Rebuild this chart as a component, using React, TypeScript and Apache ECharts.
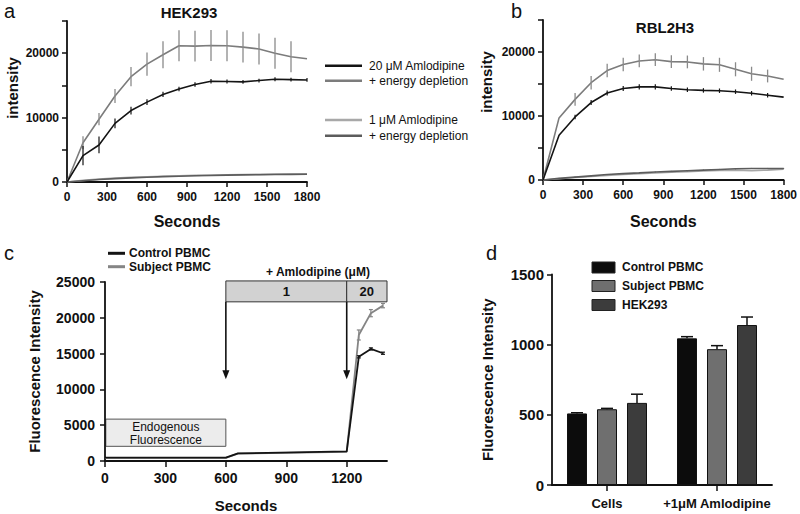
import React, { useEffect, useRef } from 'react';
import * as echarts from 'echarts';

const FONT = '"Liberation Sans", Arial, Helvetica, sans-serif';

// ---------- panel a / b (time course, s) ----------
const TIME_AB = [0, 120, 240, 360, 480, 600, 720, 840, 960, 1080, 1200, 1320, 1440, 1560, 1680, 1800];
const X_TICKS_AB = [0, 300, 600, 900, 1200, 1500, 1800];
const Y_LABELS_AB = [0, 10000, 20000];

const HEK_20 = [0, 4100, 5750, 9100, 11100, 12400, 13600, 14450, 15150, 15650, 15600, 15550, 15750, 15950, 15900, 15850];
const HEK_20_ERR = [0, 1500, 1300, 750, 600, 450, 400, 350, 350, 350, 300, 300, 300, 300, 300, 300];
const HEK_20_ED = [0, 6100, 9750, 13350, 16350, 18300, 19750, 21150, 21100, 21200, 21150, 20950, 20650, 20000, 19450, 19150];
const HEK_20_ED_ERR = [0, 1000, 950, 1100, 1500, 1800, 2100, 2400, 2400, 2400, 2400, 2400, 2400, 2400, 2400, 0];
const HEK_1 = [0, 250, 450, 600, 720, 820, 900, 970, 1030, 1080, 1120, 1160, 1190, 1220, 1240, 1260];
const HEK_1_ED = [0, 200, 380, 520, 640, 740, 830, 900, 960, 1010, 1060, 1100, 1130, 1160, 1180, 1200];

const RBL_20 = [0, 7000, 9850, 12100, 13600, 14300, 14550, 14550, 14300, 14100, 14000, 13950, 13800, 13550, 13250, 12950];
const RBL_20_ERR = [0, 0, 350, 400, 400, 400, 400, 400, 350, 350, 350, 350, 350, 350, 350, 0];
const RBL_20_ED = [0, 9700, 12600, 15200, 17100, 18050, 18600, 18800, 18500, 18450, 18150, 18000, 17300, 16600, 16250, 15750];
const RBL_20_ED_ERR = [0, 0, 1000, 1050, 1050, 1050, 1000, 1000, 1000, 1000, 1050, 1100, 1100, 1100, 1000, 0];
const RBL_1 = [0, 200, 380, 550, 700, 850, 980, 1100, 1200, 1300, 1400, 1480, 1550, 1450, 1550, 1700];
const RBL_1_ED = [0, 250, 450, 650, 850, 1000, 1120, 1250, 1350, 1450, 1550, 1650, 1750, 1800, 1800, 1800];
const RBL_1_ED_ERR = [0, 80, 80, 80, 80, 80, 80, 80, 80, 80, 80, 80, 80, 80, 80, 80];

// ---------- panel c ----------
const TIME_C = [0, 600, 660, 1200, 1260, 1320, 1380];
const X_TICKS_C = [0, 300, 600, 900, 1200];
const CONTROL_C = [480, 480, 1060, 1340, 14550, 15650, 15050];
const CONTROL_C_ERR = [0, 0, 0, 0, 150, 150, 150];
const SUBJECT_C = [450, 450, 1020, 1280, 17600, 20650, 21700];
const SUBJECT_C_ERR = [0, 0, 0, 0, 700, 500, 300];

// ---------- panel d ----------
const CATS_D = ['Cells', '+1μM Amlodipine'];
const CONTROL_D = [510, 1045];
const CONTROL_D_ERR = [5, 12];
const SUBJECT_D = [540, 968];
const SUBJECT_D_ERR = [6, 25];
const HEK_D = [585, 1140];
const HEK_D_ERR = [62, 57];

const BAR_W = 20;
const BAR_GAP = 0.5;

const C_BLACK = '#141414';
const C_GRAY = '#7c7c7c';
const C_LIGHT = '#a8a8a8';
const C_DARK = '#5c5c5c';

const pairs = (xs: number[], ys: number[]) => xs.map((x, i) => [x, ys[i]]);
const errData = (xs: number[], ys: number[], es: number[]) =>
  xs.map((x, i) => [x, ys[i] - es[i], ys[i] + es[i], es[i]]).filter((d) => d[3] > 0);

const line = (name: string, gi: number, xs: number[], ys: number[], color: string, width = 1.6) => ({
  type: 'line',
  name,
  xAxisIndex: gi,
  yAxisIndex: gi,
  data: pairs(xs, ys),
  symbol: 'none',
  lineStyle: { color, width },
  itemStyle: { color },
  z: 3,
});

const errBars = (gi: number, xs: number[], ys: number[], es: number[], color: string, cap: number, width: number) => ({
  type: 'custom',
  xAxisIndex: gi,
  yAxisIndex: gi,
  data: errData(xs, ys, es),
  encode: { x: 0, y: [1, 2] },
  z: 4,
  renderItem: (params: any, api: any) => {
    const x = api.value(0);
    const lo = api.coord([x, api.value(1)]);
    const hi = api.coord([x, api.value(2)]);
    const style = { stroke: color, lineWidth: width };
    const children: any[] = [
      { type: 'line', shape: { x1: lo[0], y1: lo[1], x2: hi[0], y2: hi[1] }, style },
    ];
    if (cap > 0) {
      children.push({ type: 'line', shape: { x1: hi[0] - cap, y1: hi[1], x2: hi[0] + cap, y2: hi[1] }, style });
      children.push({ type: 'line', shape: { x1: lo[0] - cap, y1: lo[1], x2: lo[0] + cap, y2: lo[1] }, style });
    }
    return { type: 'group', children };
  },
});

const barErr = (k: number, vals: number[], errs: number[]) => ({
  type: 'custom',
  xAxisIndex: 3,
  yAxisIndex: 3,
  data: vals.map((v, i) => [i, v, errs[i]]),
  z: 5,
  renderItem: (params: any, api: any) => {
    const off = (k - 1) * BAR_W * (1 + BAR_GAP);
    const base = api.coord([api.value(0), api.value(1)]);
    const top = api.coord([api.value(0), api.value(1) + api.value(2)]);
    const x = base[0] + off;
    const style = { stroke: '#111', lineWidth: 1.5 };
    return {
      type: 'group',
      children: [
        { type: 'line', shape: { x1: x, y1: base[1], x2: x, y2: top[1] }, style },
        { type: 'line', shape: { x1: x - 6, y1: top[1], x2: x + 6, y2: top[1] }, style },
      ],
    };
  },
});

const plain = (v: any) => String(v);

const axisBase = (fontSize: number, margin: number) => ({
  axisLine: { show: true, onZero: false, lineStyle: { color: '#111', width: 1.8 } },
  axisTick: { show: true, length: 5, lineStyle: { color: '#111', width: 1.5 } },
  axisLabel: { color: '#111', fontWeight: 'bold', fontFamily: FONT, fontSize, margin, formatter: plain },
  splitLine: { show: false },
});

const nameStyle = (size: number) => ({ color: '#111', fontWeight: 'bold', fontFamily: FONT, fontSize: size });

export default function App() {
  const ref = useRef<HTMLDivElement>(null);

  useEffect(() => {
    document.body.style.margin = '0';
    const chart = echarts.init(ref.current!, null, { renderer: 'svg' });

    const abX = (gi: number, gap: number) => {
      const b = axisBase(12, 9);
      return {
        ...b,
        gridIndex: gi,
        type: 'value',
        min: 0,
        max: 1800,
        interval: 300,
        name: 'Seconds',
        nameLocation: 'middle',
        nameGap: gap,
        nameTextStyle: nameStyle(16),
        axisTick: { ...b.axisTick, customValues: X_TICKS_AB },
        axisLabel: { ...b.axisLabel, customValues: X_TICKS_AB },
      };
    };
    const abY = (gi: number) => {
      const b = axisBase(12, 8);
      return {
        ...b,
        gridIndex: gi,
        type: 'value',
        min: 0,
        max: 25000,
        interval: 5000,
        axisLabel: { ...b.axisLabel, customValues: Y_LABELS_AB },
      };
    };
    const cX = axisBase(14, 10);
    const dX = axisBase(13, 12);

    const option: any = {
      animation: false,
      backgroundColor: '#fff',
      textStyle: { fontFamily: FONT },
      grid: [
        { left: 67, top: 21, width: 240, height: 161 },
        { left: 543, top: 20, width: 242, height: 160 },
        { left: 105, top: 282, width: 282, height: 186 },
        { left: 552, top: 274.5, width: 220, height: 210.5 },
      ],
      xAxis: [
        abX(0, 31),
        abX(1, 33),
        {
          ...cX,
          gridIndex: 2,
          type: 'value',
          min: 0,
          max: 1400,
          interval: 300,
          name: 'Seconds',
          nameLocation: 'middle',
          nameGap: 37,
          nameTextStyle: nameStyle(15),
          axisTick: { ...cX.axisTick, length: 6, customValues: X_TICKS_C },
          axisLabel: { ...cX.axisLabel, customValues: X_TICKS_C },
        },
        {
          ...dX,
          gridIndex: 3,
          type: 'category',
          data: CATS_D,
          axisTick: { ...dX.axisTick, length: 6, alignWithLabel: true },
          axisLabel: { ...dX.axisLabel, interval: 0, hideOverlap: false },
        },
      ],
      yAxis: [
        abY(0),
        abY(1),
        {
          ...axisBase(14, 10),
          gridIndex: 2,
          type: 'value',
          min: 0,
          max: 25000,
          interval: 5000,
          name: 'Fluorescence Intensity',
          nameLocation: 'middle',
          nameGap: 63,
          nameTextStyle: nameStyle(15),
        },
        {
          ...axisBase(15, 8),
          gridIndex: 3,
          type: 'value',
          min: 0,
          max: 1500,
          interval: 500,
          name: 'Fluorescence Intensity',
          nameLocation: 'middle',
          nameGap: 57,
          nameTextStyle: nameStyle(15),
        },
      ],
      series: [
        // panel a
        line('1 μM Amlodipine (HEK293)', 0, TIME_AB, HEK_1, C_LIGHT),
        line('1 μM + energy depletion (HEK293)', 0, TIME_AB, HEK_1_ED, C_DARK),
        line('20 μM + energy depletion (HEK293)', 0, TIME_AB, HEK_20_ED, C_GRAY),
        errBars(0, TIME_AB, HEK_20_ED, HEK_20_ED_ERR, '#8a8a8a', 0, 1.3),
        line('20 μM Amlodipine (HEK293)', 0, TIME_AB, HEK_20, C_BLACK),
        errBars(0, TIME_AB, HEK_20, HEK_20_ERR, C_BLACK, 0, 1.2),
        // panel b
        line('1 μM Amlodipine (RBL2H3)', 1, TIME_AB, RBL_1, C_LIGHT),
        line('1 μM + energy depletion (RBL2H3)', 1, TIME_AB, RBL_1_ED, C_DARK),
        errBars(1, TIME_AB, RBL_1_ED, RBL_1_ED_ERR, C_DARK, 0, 1),
        line('20 μM + energy depletion (RBL2H3)', 1, TIME_AB, RBL_20_ED, C_GRAY),
        errBars(1, TIME_AB, RBL_20_ED, RBL_20_ED_ERR, '#8a8a8a', 0, 1.3),
        line('20 μM Amlodipine (RBL2H3)', 1, TIME_AB, RBL_20, C_BLACK),
        errBars(1, TIME_AB, RBL_20, RBL_20_ERR, C_BLACK, 0, 1.2),
        // panel c
        line('Subject PBMC (time)', 2, TIME_C, SUBJECT_C, '#858585', 1.8),
        errBars(2, TIME_C, SUBJECT_C, SUBJECT_C_ERR, '#858585', 2, 1.2),
        line('Control PBMC (time)', 2, TIME_C, CONTROL_C, C_BLACK, 1.8),
        errBars(2, TIME_C, CONTROL_C, CONTROL_C_ERR, C_BLACK, 2, 1.2),
        // panel d
        {
          type: 'bar', name: 'Control PBMC', xAxisIndex: 3, yAxisIndex: 3, data: CONTROL_D,
          barWidth: BAR_W, barGap: `${BAR_GAP * 100}%`,
          itemStyle: { color: '#0c0c0c', borderColor: '#111', borderWidth: 1 },
        },
        {
          type: 'bar', name: 'Subject PBMC', xAxisIndex: 3, yAxisIndex: 3, data: SUBJECT_D,
          barWidth: BAR_W, barGap: `${BAR_GAP * 100}%`,
          itemStyle: { color: '#6f6f6f', borderColor: '#111', borderWidth: 1 },
        },
        {
          type: 'bar', name: 'HEK293', xAxisIndex: 3, yAxisIndex: 3, data: HEK_D,
          barWidth: BAR_W, barGap: `${BAR_GAP * 100}%`,
          itemStyle: { color: '#3c3c3c', borderColor: '#111', borderWidth: 1 },
        },
        barErr(0, CONTROL_D, CONTROL_D_ERR),
        barErr(1, SUBJECT_D, SUBJECT_D_ERR),
        barErr(2, HEK_D, HEK_D_ERR),
      ],
    };

    chart.setOption(option);

    const txt = (text: string, x: number, y: number, font: string, align = 'left', extra: any = {}) => ({
      type: 'text',
      x,
      y,
      ...extra,
      style: { text, font, fill: '#111', textAlign: align, textVerticalAlign: 'middle' },
    });
    const hline = (x1: number, x2: number, y: number, color: string, w: number) => ({
      type: 'line',
      shape: { x1, y1: y, x2, y2: y },
      style: { stroke: color, lineWidth: w },
    });

    const pc = (x: number, y: number) => chart.convertToPixel({ gridIndex: 2 } as any, [x, y]) as number[];
    const boxTop = pc(600, 25150);
    const boxBot = pc(1200, 22230);
    const boxEnd = pc(1400, 22230);
    const tip1 = pc(600, 11425);
    const tip2 = pc(1200, 11425);
    const endoA = pc(4, 5850);
    const endoB = pc(600, 2050);
    const arrow = (x: number, yTop: number, yTip: number) => [
      { type: 'line', shape: { x1: x, y1: yTop, x2: x, y2: yTip - 6 }, style: { stroke: '#111', lineWidth: 1.6 } },
      {
        type: 'polygon',
        shape: { points: [[x - 3.5, yTip - 9], [x + 3.5, yTip - 9], [x, yTip]] },
        style: { fill: '#111' },
      },
    ];

    const BOLD12 = `bold 12px ${FONT}`;
    const graphics: any[] = [
      // panel labels
      txt('a', 4, 11, `20px ${FONT}`),
      txt('b', 511, 11, `20px ${FONT}`),
      txt('c', 4, 253, `20px ${FONT}`),
      txt('d', 486, 253, `20px ${FONT}`),
      // titles
      txt('HEK293', 189, 12, `bold 15px ${FONT}`, 'center'),
      txt('RBL2H3', 665, 27, `bold 15px ${FONT}`, 'center'),
      txt('intensity', 12, 88, `bold 15px ${FONT}`, 'center', { rotation: Math.PI / 2 }),
      txt('intensity', 486, 82, `bold 15px ${FONT}`, 'center', { rotation: Math.PI / 2 }),
      // legend a
      hline(325, 362, 65.7, C_BLACK, 2.5),
      txt('20 μM Amlodipine', 369, 65.7, `12px ${FONT}`),
      hline(325, 362, 80.7, C_GRAY, 2.5),
      txt('+ energy depletion', 369, 80.7, `12px ${FONT}`),
      hline(325, 362, 120, C_LIGHT, 2.5),
      txt('1 μM Amlodipine', 369, 120, `12px ${FONT}`),
      hline(325, 362, 135.7, C_DARK, 2.5),
      txt('+ energy depletion', 369, 135.7, `12px ${FONT}`),
      // legend c
      hline(108, 125, 253.3, C_BLACK, 3),
      txt('Control PBMC', 129, 253.3, BOLD12),
      hline(108, 125, 266.7, '#858585', 3),
      txt('Subject PBMC', 129, 266.7, BOLD12),
      // annotations c
      txt('+ Amlodipine (μM)', 318, 272.3, BOLD12, 'center'),
      {
        type: 'rect',
        shape: { x: boxTop[0], y: boxTop[1], width: boxBot[0] - boxTop[0], height: boxBot[1] - boxTop[1] },
        style: { fill: '#d2d2d2', stroke: '#333', lineWidth: 1 },
      },
      {
        type: 'rect',
        shape: { x: boxBot[0], y: boxTop[1], width: boxEnd[0] - boxBot[0], height: boxBot[1] - boxTop[1] },
        style: { fill: '#d2d2d2', stroke: '#333', lineWidth: 1 },
      },
      txt('1', (boxTop[0] + boxBot[0]) / 2, (boxTop[1] + boxBot[1]) / 2, `bold 13px ${FONT}`, 'center'),
      txt('20', (boxBot[0] + boxEnd[0]) / 2, (boxTop[1] + boxBot[1]) / 2, `bold 13px ${FONT}`, 'center'),
      ...arrow(tip1[0], boxBot[1], tip1[1]),
      ...arrow(tip2[0], boxBot[1], tip2[1]),
      {
        type: 'rect',
        shape: { x: endoA[0], y: endoA[1], width: endoB[0] - endoA[0], height: endoB[1] - endoA[1] },
        style: { fill: '#ececec', stroke: '#555', lineWidth: 1 },
      },
      txt('Endogenous', (endoA[0] + endoB[0]) / 2, endoA[1] + 7.5, `12px ${FONT}`, 'center'),
      txt('Fluorescence', (endoA[0] + endoB[0]) / 2, endoA[1] + 20.5, `12px ${FONT}`, 'center'),
      // legend d
      { type: 'rect', shape: { x: 592, y: 262, width: 23, height: 11 }, style: { fill: '#0c0c0c', stroke: '#222', lineWidth: 1 } },
      txt('Control PBMC', 622, 267.3, BOLD12),
      { type: 'rect', shape: { x: 592, y: 280.5, width: 23, height: 11 }, style: { fill: '#6f6f6f', stroke: '#222', lineWidth: 1 } },
      txt('Subject PBMC', 622, 286, BOLD12),
      { type: 'rect', shape: { x: 592, y: 299.5, width: 23, height: 11 }, style: { fill: '#3c3c3c', stroke: '#222', lineWidth: 1 } },
      txt('HEK293', 622, 305, BOLD12),
    ];

    chart.setOption({ graphic: graphics });

    return () => {
      chart.dispose();
    };
  }, []);

  return <div ref={ref} style={{ width: 800, height: 514 }} />;
}
